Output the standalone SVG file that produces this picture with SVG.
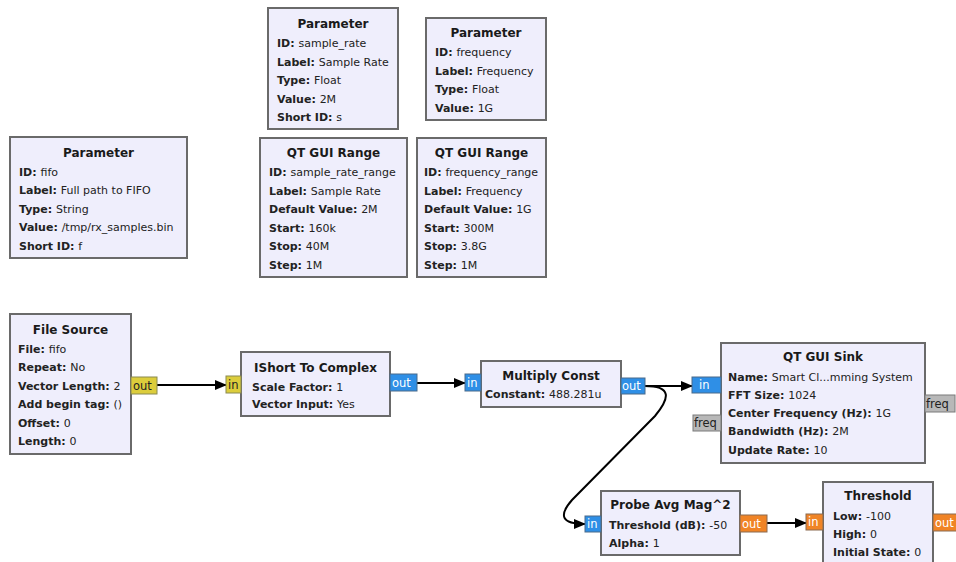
<svg xmlns="http://www.w3.org/2000/svg" width="956" height="562" viewBox="0 0 956 562">
<style>
.box{fill:#efeefc;stroke:#6a6a6a;stroke-width:2}
.t{font-family:"DejaVu Sans",sans-serif;font-size:12px;font-weight:bold;fill:#1a1a1a;text-anchor:middle}
.l{font-family:"DejaVu Sans",sans-serif;font-size:11px;fill:#222}
.k{font-weight:bold}
.py{fill:#dccd3c;stroke:#8a8a50;stroke-width:1}
.pb{fill:#2f8fe6;stroke:#4a6a8a;stroke-width:1}
.po{fill:#f08426;stroke:#8a6a50;stroke-width:1}
.pg{fill:#b8b8b8;stroke:#7a7a7a;stroke-width:1}
.pl{font-family:"DejaVu Sans",sans-serif;font-size:11.5px;fill:#222}
.pw{font-family:"DejaVu Sans",sans-serif;font-size:11.5px;fill:#fff}
.c{fill:none;stroke:#000;stroke-width:2}
</style>
<defs>
<marker id="ah" markerUnits="userSpaceOnUse" markerWidth="12" markerHeight="10" refX="11" refY="5" orient="auto">
<path d="M0,0 L12,5 L0,10 z" fill="#000"/>
</marker>
</defs>
<rect width="956" height="562" fill="#fff"/>

<g id="param_fifo">
<rect class="box" x="10" y="137" width="177" height="121"/>
<text class="t" x="98.5" y="157">Parameter</text>
<text class="l" x="19" y="175.5"><tspan class="k">ID: </tspan>fifo</text>
<text class="l" x="19" y="194"><tspan class="k">Label: </tspan>Full path to FIFO</text>
<text class="l" x="19" y="212.5"><tspan class="k">Type: </tspan>String</text>
<text class="l" x="19" y="231"><tspan class="k">Value: </tspan>/tmp/rx_samples.bin</text>
<text class="l" x="19" y="249.5"><tspan class="k">Short ID: </tspan>f</text>
</g>

<g id="param_sample_rate">
<rect class="box" x="268" y="8" width="130" height="121"/>
<text class="t" x="333" y="28">Parameter</text>
<text class="l" x="277" y="47"><tspan class="k">ID: </tspan>sample_rate</text>
<text class="l" x="277" y="65.5"><tspan class="k">Label: </tspan>Sample Rate</text>
<text class="l" x="277" y="84"><tspan class="k">Type: </tspan>Float</text>
<text class="l" x="277" y="102.5"><tspan class="k">Value: </tspan>2M</text>
<text class="l" x="277" y="121"><tspan class="k">Short ID: </tspan>s</text>
</g>

<g id="param_frequency">
<rect class="box" x="426" y="18" width="120" height="102"/>
<text class="t" x="486" y="37">Parameter</text>
<text class="l" x="435" y="56"><tspan class="k">ID: </tspan>frequency</text>
<text class="l" x="435" y="74.5"><tspan class="k">Label: </tspan>Frequency</text>
<text class="l" x="435" y="93"><tspan class="k">Type: </tspan>Float</text>
<text class="l" x="435" y="111.5"><tspan class="k">Value: </tspan>1G</text>
</g>

<g id="range_sample_rate">
<rect class="box" x="260" y="138" width="147" height="139"/>
<text class="t" x="333.5" y="157">QT GUI Range</text>
<text class="l" x="269" y="176"><tspan class="k">ID: </tspan>sample_rate_range</text>
<text class="l" x="269" y="194.5"><tspan class="k">Label: </tspan>Sample Rate</text>
<text class="l" x="269" y="213"><tspan class="k">Default Value: </tspan>2M</text>
<text class="l" x="269" y="231.5"><tspan class="k">Start: </tspan>160k</text>
<text class="l" x="269" y="250"><tspan class="k">Stop: </tspan>40M</text>
<text class="l" x="269" y="268.5"><tspan class="k">Step: </tspan>1M</text>
</g>

<g id="range_frequency">
<rect class="box" x="417" y="138" width="129" height="139"/>
<text class="t" x="481.5" y="157">QT GUI Range</text>
<text class="l" x="424" y="176"><tspan class="k">ID: </tspan>frequency_range</text>
<text class="l" x="424" y="194.5"><tspan class="k">Label: </tspan>Frequency</text>
<text class="l" x="424" y="213"><tspan class="k">Default Value: </tspan>1G</text>
<text class="l" x="424" y="231.5"><tspan class="k">Start: </tspan>300M</text>
<text class="l" x="424" y="250"><tspan class="k">Stop: </tspan>3.8G</text>
<text class="l" x="424" y="268.5"><tspan class="k">Step: </tspan>1M</text>
</g>

<g id="connectors">
<path class="c" d="M157,385 L226,385" marker-end="url(#ah)"/>
<path class="c" d="M417,383 L465,383" marker-end="url(#ah)"/>
<path class="c" d="M645,386 L692,386" marker-end="url(#ah)"/>
<path class="c" d="M645,386 C672,386 670,398 655,416 L572,500 C558,516 562,524 585,524" marker-end="url(#ah)"/>
<path class="c" d="M767,523 L806,523" marker-end="url(#ah)"/>
</g>

<g id="file_source">
<rect class="box" x="10" y="314" width="121" height="140"/>
<text class="t" x="70.5" y="333.5">File Source</text>
<text class="l" x="18" y="352.5"><tspan class="k">File: </tspan>fifo</text>
<text class="l" x="18" y="371"><tspan class="k">Repeat: </tspan>No</text>
<text class="l" x="18" y="389.5"><tspan class="k">Vector Length: </tspan>2</text>
<text class="l" x="18" y="408"><tspan class="k">Add begin tag: </tspan>()</text>
<text class="l" x="18" y="426.5"><tspan class="k">Offset: </tspan>0</text>
<text class="l" x="18" y="445"><tspan class="k">Length: </tspan>0</text>
<rect class="py" x="131" y="377" width="26" height="17"/>
<text class="pl" x="133" y="390">out</text>
</g>

<g id="ishort_to_complex">
<rect class="box" x="241" y="352" width="149" height="64"/>
<text class="t" x="315.5" y="371.5">IShort To Complex</text>
<text class="l" x="252" y="390.5"><tspan class="k">Scale Factor: </tspan>1</text>
<text class="l" x="252" y="408"><tspan class="k">Vector Input: </tspan>Yes</text>
<rect class="py" x="226" y="376" width="15" height="17"/>
<text class="pl" x="228" y="389">in</text>
<rect class="pb" x="390" y="374" width="27" height="17"/>
<text class="pw" x="392" y="387">out</text>
</g>

<g id="multiply_const">
<rect class="box" x="481" y="361" width="140" height="46"/>
<text class="t" x="551" y="379.5">Multiply Const</text>
<text class="l" x="485" y="397.5"><tspan class="k">Constant: </tspan>488.281u</text>
<rect class="pb" x="465" y="374" width="16" height="17"/>
<text class="pw" x="467" y="387">in</text>
<rect class="pb" x="621" y="378" width="24" height="16"/>
<text class="pw" x="622" y="390">out</text>
</g>

<g id="qt_gui_sink">
<rect class="box" x="721" y="343" width="204" height="120"/>
<text class="t" x="823" y="361">QT GUI Sink</text>
<text class="l" x="728" y="381"><tspan class="k">Name: </tspan>Smart Cl...mming System</text>
<text class="l" x="728" y="399"><tspan class="k">FFT Size: </tspan>1024</text>
<text class="l" x="728" y="417"><tspan class="k">Center Frequency (Hz): </tspan>1G</text>
<text class="l" x="728" y="435"><tspan class="k">Bandwidth (Hz): </tspan>2M</text>
<text class="l" x="728" y="453.5"><tspan class="k">Update Rate: </tspan>10</text>
<rect class="pb" x="692" y="377" width="29" height="16"/>
<text class="pw" x="699" y="389">in</text>
<rect class="pg" x="693" y="415" width="28" height="16"/>
<text class="pl" x="694" y="427">freq</text>
<rect class="pg" x="925" y="395" width="30" height="17"/>
<text class="pl" x="926" y="408">freq</text>
</g>

<g id="probe_avg_mag">
<rect class="box" x="601" y="491" width="139" height="64"/>
<text class="t" x="670.5" y="508.5">Probe Avg Mag^2</text>
<text class="l" x="609" y="528.5"><tspan class="k">Threshold (dB): </tspan>-50</text>
<text class="l" x="609" y="547"><tspan class="k">Alpha: </tspan>1</text>
<rect class="pb" x="585" y="516" width="16" height="16"/>
<text class="pw" x="587" y="528">in</text>
<rect class="po" x="740" y="515" width="27" height="17"/>
<text class="pw" x="742" y="528">out</text>
</g>

<g id="threshold">
<rect class="box" x="823" y="482" width="110" height="90"/>
<text class="t" x="878" y="499.5">Threshold</text>
<text class="l" x="833" y="519.5"><tspan class="k">Low: </tspan>-100</text>
<text class="l" x="833" y="537.5"><tspan class="k">High: </tspan>0</text>
<text class="l" x="833" y="556"><tspan class="k">Initial State: </tspan>0</text>
<rect class="po" x="806" y="514" width="17" height="16"/>
<text class="pw" x="808" y="526">in</text>
<rect class="po" x="933" y="514" width="26" height="17"/>
<text class="pw" x="935" y="527">out</text>
</g>
</svg>
